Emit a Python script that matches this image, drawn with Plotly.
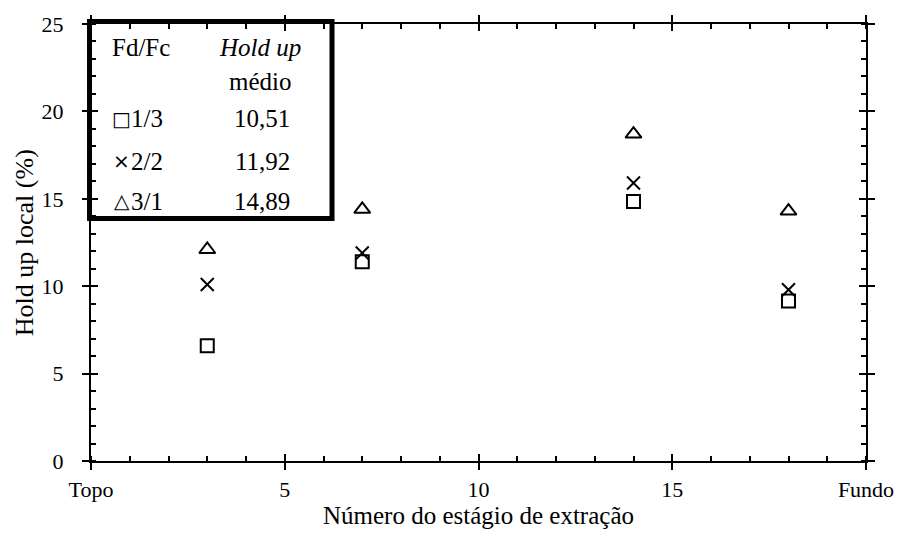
import plotly.graph_objects as go

# Extraction stage (top -> bottom of the column)
stages = [3, 7, 14, 18]

# Local hold up (%) for each dispersed/continuous flow ratio
hold_1_3 = [6.6, 11.4, 14.85, 9.15]
hold_2_2 = [10.1, 11.9, 15.9, 9.8]
hold_3_1 = [12.1, 14.4, 18.7, 14.3]

ratio_labels = ["1/3", "2/2", "3/1"]
mean_holdup = ["10,51", "11,92", "14,89"]
ratio_glyphs = ["\u25a1", "\u00d7", "\u25b3"]

x_tickvals = [0, 5, 10, 15, 20]
x_ticktext = ["Topo", "5", "10", "15", "Fundo"]
y_tickvals = [0, 5, 10, 15, 20, 25]

FONT = "Liberation Serif"

# plot-area placement in pixels
L, R, T, B = 91, 32, 22, 73
W, H = 906, 534
PW, PH = W - L - R, H - T - B

fig = go.Figure()

series = [
    (hold_1_3, "square-open", 13),
    (hold_2_2, "x-thin-open", 13),
    (hold_3_1, "triangle-up-open", 14),
]
for vals, sym, size in series:
    fig.add_trace(go.Scatter(
        x=stages, y=vals, mode="markers", showlegend=False,
        marker=dict(symbol=sym, size=size, color="black",
                    line=dict(color="black", width=2)),
    ))

# invisible trace so the overlay axes (inner half of major ticks) get drawn
fig.add_trace(go.Scatter(x=[None], y=[None], xaxis="x2", yaxis="y2",
                         showlegend=False, hoverinfo="skip"))

tickfont = dict(family=FONT, size=22, color="black")
common = dict(showline=True, linewidth=2, linecolor="black", mirror="ticks",
              tickwidth=2, tickcolor="black", showgrid=False, zeroline=False)

fig.update_layout(
    width=W, height=H,
    margin=dict(l=L, r=R, t=T, b=B),
    paper_bgcolor="white", plot_bgcolor="white",
    font=dict(family=FONT, color="black"),
    xaxis=dict(range=[0, 20], tickmode="array", tickvals=x_tickvals,
               ticktext=x_ticktext, ticks="outside", ticklen=7,
               tickfont=tickfont, ticklabelstandoff=1,
               minor=dict(ticks="inside", dtick=1, tick0=0, ticklen=5,
                          tickwidth=2, tickcolor="black"),
               **common),
    yaxis=dict(range=[0, 25], tickmode="array", tickvals=y_tickvals,
               ticks="outside", ticklen=7, tickfont=tickfont,
               ticklabelstandoff=14,
               minor=dict(ticks="inside", dtick=1, tick0=0, ticklen=5,
                          tickwidth=2, tickcolor="black"),
               **common),
    xaxis2=dict(overlaying="x", matches="x", anchor="y2", side="bottom",
                tickmode="array", tickvals=x_tickvals, ticks="inside",
                ticklen=7, showticklabels=False, showline=False,
                mirror="ticks", tickwidth=2, tickcolor="black",
                showgrid=False, zeroline=False),
    yaxis2=dict(overlaying="y", matches="y", anchor="x2", side="left",
                tickmode="array", tickvals=y_tickvals, ticks="inside",
                ticklen=7, showticklabels=False, showline=False,
                mirror="ticks", tickwidth=2, tickcolor="black",
                showgrid=False, zeroline=False),
)


def px_to_paper(px, py):
    return (px - L) / PW, (H - B - py) / PH


# framed summary table in the upper-left corner
bx0, by1 = px_to_paper(89.5, 19.5)
bx1, by0 = px_to_paper(334.5, 217.5)
fig.add_shape(type="rect", xref="paper", yref="paper",
              x0=bx0, x1=bx1, y0=by0, y1=by1,
              line=dict(color="black", width=5), fillcolor="rgba(0,0,0,0)",
              layer="above")


def note(text, px, py, size=25, family=FONT, angle=0):
    x, y = px_to_paper(px, py)
    fig.add_annotation(text=text, x=x, y=y, xref="paper", yref="paper",
                       showarrow=False, xanchor="center", yanchor="middle",
                       textangle=angle,
                       font=dict(family=family, size=size, color="black"))


# axis titles
note("Número do estágio de extração", L + PW / 2, 516, size=25)
note("Hold up local (%)", 24, T + PH / 2, size=26, angle=-90)

# table contents
note("Fd/Fc", 142, 46)
note("<i>Hold up</i>", 262, 46)
note("médio", 262, 80)
rows_y = [117, 160, 200]
for glyph, lab, val, ry in zip(ratio_glyphs, ratio_labels, mean_holdup, rows_y):
    note(glyph, 122, ry, size=20, family="DejaVu Sans")
    note(lab, 148, ry)
    note(val, 264, ry)

fig.write_html("out.html")
